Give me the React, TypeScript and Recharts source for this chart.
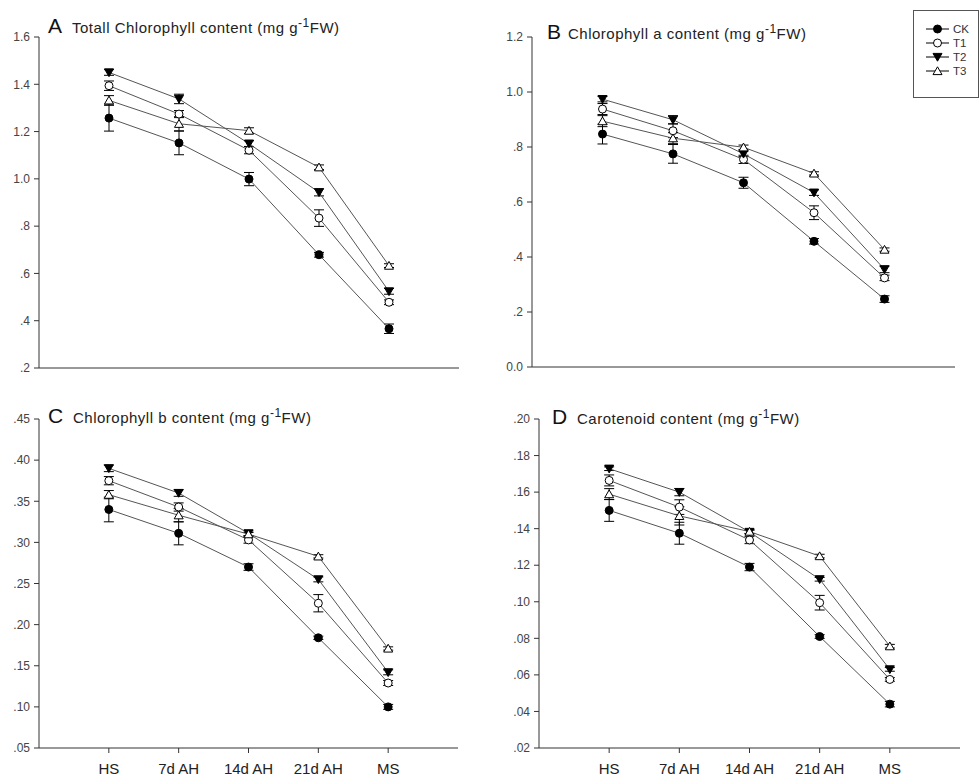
import { LineChart, Line, XAxis, YAxis, ErrorBar } from 'recharts';

// Sampling stages on the x axis
const stages = ['HS', '7d AH', '14d AH', '21d AH', 'MS'];
const treatments = ['CK', 'T1', 'T2', 'T3'];

// A – total chlorophyll
const totalCK = [1.257, 1.152, 0.999, 0.679, 0.366];
const totalCKErr = [0.055, 0.05, 0.028, 0.01, 0.02];
const totalT1 = [1.394, 1.274, 1.121, 0.834, 0.478];
const totalT1Err = [0.02, 0.015, 0.015, 0.035, 0.01];
const totalT2 = [1.45, 1.338, 1.149, 0.943, 0.524];
const totalT2Err = [0.012, 0.02, 0.012, 0.015, 0.012];
const totalT3 = [1.332, 1.233, 1.204, 1.049, 0.633];
const totalT3Err = [0.02, 0.03, 0.012, 0.01, 0.008];
const totalTicks = [0.2, 0.4, 0.6, 0.8, 1.0, 1.2, 1.4, 1.6];

// B – chlorophyll a
const chlACK = [0.847, 0.775, 0.67, 0.457, 0.247];
const chlACKErr = [0.036, 0.034, 0.02, 0.01, 0.012];
const chlAT1 = [0.938, 0.859, 0.755, 0.561, 0.324];
const chlAT1Err = [0.02, 0.025, 0.015, 0.025, 0.01];
const chlAT2 = [0.974, 0.899, 0.775, 0.634, 0.355];
const chlAT2Err = [0.01, 0.015, 0.01, 0.01, 0.012];
const chlAT3 = [0.894, 0.832, 0.799, 0.704, 0.427];
const chlAT3Err = [0.02, 0.02, 0.008, 0.006, 0.006];
const chlATicks = [0, 0.2, 0.4, 0.6, 0.8, 1.0, 1.2];

// C – chlorophyll b
const chlBCK = [0.34, 0.311, 0.27, 0.184, 0.1];
const chlBCKErr = [0.015, 0.014, 0.004, 0.002, 0.003];
const chlBT1 = [0.375, 0.343, 0.303, 0.226, 0.129];
const chlBT1Err = [0.005, 0.005, 0.004, 0.0105, 0.003];
const chlBT2 = [0.39, 0.36, 0.311, 0.255, 0.142];
const chlBT2Err = [0.004, 0.004, 0.003, 0.003, 0.003];
const chlBT3 = [0.358, 0.333, 0.31, 0.283, 0.171];
const chlBT3Err = [0.005, 0.008, 0.002, 0.002, 0.002];
const chlBTicks = [0.05, 0.1, 0.15, 0.2, 0.25, 0.3, 0.35, 0.4, 0.45];

// D – carotenoid
const carCK = [0.15, 0.1375, 0.119, 0.081, 0.044];
const carCKErr = [0.006, 0.006, 0.002, 0.001, 0.0015];
const carT1 = [0.1664, 0.1518, 0.1338, 0.0995, 0.0575];
const carT1Err = [0.003, 0.004, 0.002, 0.004, 0.001];
const carT2 = [0.1728, 0.16, 0.1382, 0.1123, 0.063];
const carT2Err = [0.001, 0.002, 0.001, 0.001, 0.001];
const carT3 = [0.1589, 0.147, 0.1384, 0.125, 0.0757];
const carT3Err = [0.003, 0.005, 0.001, 0.001, 0.001];
const carTicks = [0.02, 0.04, 0.06, 0.08, 0.1, 0.12, 0.14, 0.16, 0.18, 0.2];

const FONT = '"Liberation Sans", Arial, Helvetica, sans-serif';
const AXIS = '#333';

type Kind = 'dot' | 'ring' | 'down' | 'up';
const markerOf: Record<string, Kind> = { CK: 'dot', T1: 'ring', T2: 'down', T3: 'up' };

function Marker({ kind, x, y }: { kind: Kind; x: number; y: number }) {
  if (kind === 'dot' || kind === 'ring') {
    return (
      <circle cx={x} cy={y} r={4} fill={kind === 'dot' ? '#000' : '#fff'} stroke="#000" strokeWidth={1} />
    );
  }
  const s = 4.5;
  const pts =
    kind === 'down'
      ? `${x - s},${y - 3.6} ${x + s},${y - 3.6} ${x},${y + 4.2}`
      : `${x - s},${y + 3.6} ${x + s},${y + 3.6} ${x},${y - 4.2}`;
  return <polygon points={pts} fill={kind === 'down' ? '#000' : '#fff'} stroke="#000" strokeWidth={1} />;
}

const makeDot = (kind: Kind) => (p: any) => {
  if (p.cx == null || p.cy == null) return <g key={p.index} />;
  return <Marker key={p.index} kind={kind} x={p.cx} y={p.cy} />;
};

function buildRows(vals: number[][], errs: number[][]) {
  return stages.map((_, i) => {
    const row: any = { x: i + 1 };
    treatments.forEach((t, k) => {
      row[t] = vals[k][i];
      row[t + 'Err'] = errs[k][i];
    });
    return row;
  });
}

const fmt = (digits: number) => (v: number) => {
  const s = v.toFixed(digits);
  return v !== 0 && s.startsWith('0.') ? s.slice(1) : s;
};

type PanelProps = {
  left: number;
  top: number;
  width: number;
  height: number;
  margin: { top: number; right: number; bottom: number; left: number };
  yWidth: number;
  xHeight: number;
  ticks: number[];
  digits: number;
  showX: boolean;
  letter: string;
  title: string;
  letterX: number;
  textX: number;
  baseline: number;
  rows: any[];
};

function Panel(p: PanelProps) {
  const domain = [p.ticks[0], p.ticks[p.ticks.length - 1]];
  return (
    <div style={{ position: 'absolute', left: p.left, top: p.top, width: p.width, height: p.height }}>
      <LineChart width={p.width} height={p.height} data={p.rows} margin={p.margin}>
        <XAxis
          type="number"
          dataKey="x"
          domain={[0, 6]}
          ticks={[1, 2, 3, 4, 5]}
          interval={0}
          height={p.xHeight}
          tickSize={5}
          tickMargin={10}
          tickFormatter={(v: number) => stages[v - 1]}
          tick={p.showX ? { fill: '#222', fontSize: 15, fontFamily: FONT } : false}
          axisLine={{ stroke: AXIS }}
          tickLine={{ stroke: AXIS }}
        />
        <YAxis
          type="number"
          domain={domain}
          ticks={p.ticks}
          interval={0}
          width={p.yWidth}
          tickSize={5}
          tickMargin={4}
          tickFormatter={fmt(p.digits)}
          tick={{ fill: '#444', fontSize: 12, fontFamily: FONT }}
          axisLine={{ stroke: AXIS }}
          tickLine={{ stroke: AXIS }}
        />
        {treatments.map((t) => (
          <Line
            key={t}
            type="linear"
            dataKey={t}
            stroke="#555"
            strokeWidth={1}
            dot={makeDot(markerOf[t])}
            activeDot={false}
            isAnimationActive={false}
          >
            <ErrorBar dataKey={t + 'Err'} width={5} stroke="#000" strokeWidth={1} direction="y" />
          </Line>
        ))}
      </LineChart>
      <svg
        width={p.width}
        height={60}
        style={{ position: 'absolute', left: 0, top: 0, pointerEvents: 'none' }}
      >
        <text x={p.letterX} y={p.baseline} fontFamily={FONT} fontSize={21} fill="#111">
          {p.letter}
        </text>
        <text x={p.textX} y={p.baseline} fontFamily={FONT} fontSize={15} letterSpacing={0.5} fill="#222">
          {p.title}
          <tspan fontSize={12} dy={-6}>-1</tspan>
          <tspan dy={6}>FW)</tspan>
        </text>
      </svg>
    </div>
  );
}

function LegendBox() {
  return (
    <svg width={66} height={88} style={{ position: 'absolute', left: 913, top: 10 }}>
      <rect x={0.5} y={0.5} width={65} height={87} fill="#fff" stroke="#555" strokeWidth={1} />
      {treatments.map((t, i) => {
        const y = 19 + i * 14;
        return (
          <g key={t}>
            <line x1={13} x2={36} y1={y} y2={y} stroke="#000" strokeWidth={1} />
            <Marker kind={markerOf[t]} x={24.5} y={y} />
            <text x={40} y={y + 4} fontFamily={FONT} fontSize={11.5} fill="#333">
              {t}
            </text>
          </g>
        );
      })}
    </svg>
  );
}

export default function App() {
  const rowsA = buildRows([totalCK, totalT1, totalT2, totalT3], [totalCKErr, totalT1Err, totalT2Err, totalT3Err]);
  const rowsB = buildRows([chlACK, chlAT1, chlAT2, chlAT3], [chlACKErr, chlAT1Err, chlAT2Err, chlAT3Err]);
  const rowsC = buildRows([chlBCK, chlBT1, chlBT2, chlBT3], [chlBCKErr, chlBT1Err, chlBT2Err, chlBT3Err]);
  const rowsD = buildRows([carCK, carT1, carT2, carT3], [carCKErr, carT1Err, carT2Err, carT3Err]);

  return (
    <div style={{ position: 'absolute', left: 0, top: 0, width: 979, height: 776, background: '#fff', overflow: 'hidden' }}>
      <Panel
        left={0}
        top={0}
        width={480}
        height={390}
        margin={{ top: 37, right: 21, bottom: 0, left: 4 }}
        yWidth={35}
        xHeight={22}
        ticks={totalTicks}
        digits={1}
        showX={false}
        letter="A"
        title="Totall Chlorophyll content (mg g"
        letterX={48}
        textX={72}
        baseline={33}
        rows={rowsA}
      />
      <Panel
        left={480}
        top={0}
        width={499}
        height={390}
        margin={{ top: 37, right: 24, bottom: 0, left: 12 }}
        yWidth={40}
        xHeight={23}
        ticks={chlATicks}
        digits={1}
        showX={false}
        letter="B"
        title="Chlorophyll a content (mg g"
        letterX={67}
        textX={88}
        baseline={39}
        rows={rowsB}
      />
      <Panel
        left={0}
        top={390}
        width={480}
        height={386}
        margin={{ top: 29, right: 22, bottom: 0, left: 4 }}
        yWidth={35}
        xHeight={28}
        ticks={chlBTicks}
        digits={2}
        showX={true}
        letter="C"
        title="Chlorophyll b content (mg g"
        letterX={48}
        textX={73}
        baseline={33}
        rows={rowsC}
      />
      <Panel
        left={480}
        top={390}
        width={499}
        height={386}
        margin={{ top: 29, right: 19, bottom: 0, left: 19 }}
        yWidth={40}
        xHeight={28}
        ticks={carTicks}
        digits={2}
        showX={true}
        letter="D"
        title="Carotenoid content (mg g"
        letterX={72}
        textX={97}
        baseline={34}
        rows={rowsD}
      />
      <LegendBox />
    </div>
  );
}
